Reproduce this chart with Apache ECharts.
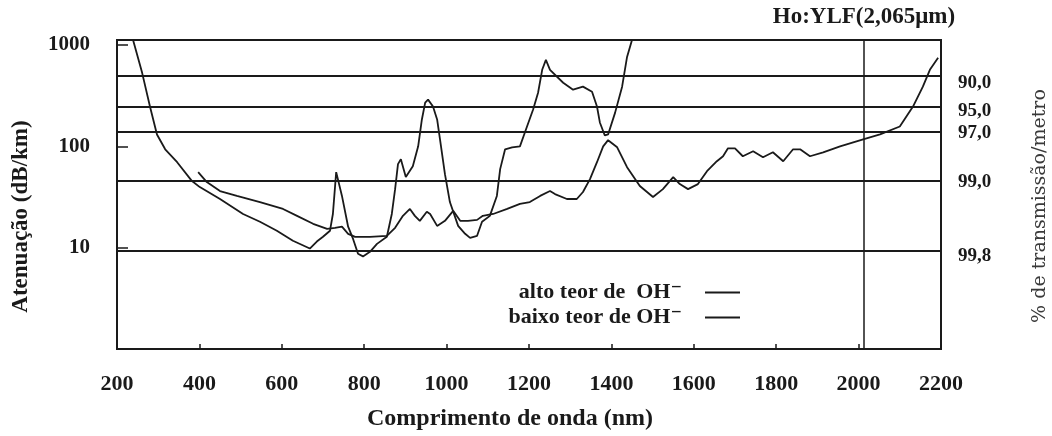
<!DOCTYPE html>
<html lang="pt">
<head>
    <meta charset="UTF-8">
    <title>Atenuação x Comprimento de onda</title>
    <script src="https://cdn.jsdelivr.net/npm/echarts@6/dist/echarts.min.js"></script>
    <style>
        html, body { margin: 0; padding: 0; background: #fff; }
    </style>
</head>
<body>
<div id="main" style="width: 1052px;height:436px;"></div>
<script type="text/javascript">
    // alto teor de OH-
    var altoNm = [239, 261, 280, 297, 317, 346, 382, 401, 450, 506, 547, 588, 627, 668, 685, 700, 717, 724, 732, 746,
        761, 773, 785, 797, 814, 831, 855, 867, 875, 882, 889, 901, 918, 931, 940, 948, 955, 967, 977, 984,
        996, 1008, 1028, 1045, 1057, 1074, 1086, 1105, 1122, 1130, 1142, 1159, 1178, 1190, 1210, 1222, 1232, 1241, 1251, 1283,
        1307, 1331, 1353, 1365, 1372, 1384, 1392, 1409, 1426, 1438, 1450];
    var altoDb = [1120, 531, 247, 131, 93.5, 69.7, 45.4, 39.6, 30.2, 21.5, 18.0, 14.7, 11.7, 9.8, 11.5, 12.8, 14.7, 21.5, 55.6, 32.4,
        16.1, 12.2, 8.7, 8.2, 9.1, 10.9, 12.8, 21.5, 37.8, 66.7, 74.7, 49.7, 63.7, 100, 184, 270, 289, 247, 184, 117,
        53.1, 28.2, 16.4, 13.7, 12.5, 13.1, 18.0, 20.6, 32.4, 59.6, 93.5, 97.8, 100, 137, 231, 338, 569, 713, 569, 424,
        362, 388, 346, 247, 172, 128, 131, 215, 388, 763, 1120];

    // baixo teor de OH-
    var baixoNm = [397, 418, 450, 491, 547, 603, 637, 676, 710, 729, 746, 761, 778, 814, 855, 875, 894, 911, 923, 935,
        952, 960, 977, 996, 1016, 1033, 1052, 1074, 1088, 1113, 1147, 1178, 1202, 1227, 1251, 1263, 1292, 1316, 1331, 1348,
        1365, 1380, 1392, 1414, 1438, 1469, 1501, 1525, 1550, 1566, 1586, 1610, 1632, 1656, 1671, 1683, 1700, 1719, 1744, 1768,
        1792, 1817, 1841, 1858, 1882, 1914, 1955, 2011, 2052, 2100, 2132, 2156, 2173, 2193];
    var baixoDb = [55.6, 44.4, 36.2, 32.4, 28.2, 24.1, 20.6, 17.2, 15.3, 15.7, 16.1, 13.7, 12.8, 12.8, 13.1, 15.7, 20.6, 24.1, 20.6, 18.4,
        22.6, 21.5, 16.4, 18.4, 23.1, 18.4, 18.4, 18.8, 20.6, 21.5, 24.1, 27.0, 28.2, 32.4, 36.2, 33.8, 30.2, 30.2, 35.4, 47.5,
        69.7, 100, 115, 97.8, 62.3, 40.6, 31.6, 37.8, 49.7, 42.4, 37.8, 42.4, 56.9, 71.3, 79.8, 95.6, 95.6, 79.8, 89.4, 78.0,
        87.3, 71.3, 93.5, 93.5, 79.8, 87.3, 100, 117, 131, 157, 247, 388, 569, 747];

    // linhas de transmissão (% por metro)
    var transDb = [497, 247, 140, 45.4, 9.35];
    var transLabels = ['90,0', '95,0', '97,0', '99,0', '99,8'];
    var transLabelDrop = [14, 10, 4, 2, 10];  // deslocamento do rótulo abaixo da linha

    var laserNm = 2013;
    var laserLabel = 'Ho:YLF(2,065\u03bcm)';

    var serif = '"Liberation Serif", "DejaVu Serif", serif';
    var ink = '#1a1a1a';

    function pares(xs, ys) {
        return xs.map(function (x, i) { return [x, ys[i]]; });
    }

    var option = {
        animation: false,
        backgroundColor: '#fff',
        grid: {
            left: 117, right: 111, top: 40, bottom: 85,
            show: true, borderColor: ink, borderWidth: 2, backgroundColor: 'transparent'
        },
        legend: {
            orient: 'vertical',
            align: 'right',
            right: 312,
            top: 281,
            padding: 0,
            itemGap: 2,
            itemWidth: 35,
            itemHeight: 2,
            icon: 'rect',
            selectedMode: false,
            textStyle: {
                fontFamily: serif, fontWeight: 'bold', fontSize: 22, color: ink,
                lineHeight: 23, padding: [0, 18, 0, 0]
            },
            data: ['alto teor de  OH\u207b', 'baixo teor de OH\u207b']
        },
        xAxis: {
            type: 'value',
            min: 200, max: 2200, interval: 200,
            name: 'Comprimento de onda (nm)',
            nameLocation: 'middle',
            nameGap: 58,
            nameTextStyle: {
                fontFamily: serif, fontWeight: 'bold', fontSize: 24, color: ink,
                padding: [0, 38, 0, 0]
            },
            axisLine: { lineStyle: { color: ink, width: 2 } },
            axisTick: { inside: true, length: 5, lineStyle: { color: ink, width: 1.5 } },
            axisLabel: {
                margin: 24,
                fontFamily: serif, fontWeight: 'bold', fontSize: 22, color: ink,
                formatter: function (v) { return String(v); }
            },
            splitLine: { show: false }
        },
        yAxis: {
            type: 'log',
            logBase: 10,
            min: 1, max: 1120,
            name: 'Atenuação (dB/km)',
            nameLocation: 'middle',
            nameGap: 84,
            nameRotate: 90,
            nameTextStyle: {
                fontFamily: serif, fontWeight: 'bold', fontSize: 23, color: ink,
                padding: [0, 44, 0, 0]
            },
            axisLine: { lineStyle: { color: ink, width: 2 } },
            axisTick: { inside: true, length: 11, lineStyle: { color: ink, width: 1.5 } },
            axisLabel: {
                margin: 27,
                fontFamily: serif, fontWeight: 'bold', fontSize: 21, color: ink,
                formatter: function (v) {
                    var r = Math.round(v);
                    return (r === 10 || r === 100 || r === 1000) ? String(r) : '';
                }
            },
            splitLine: { show: false }
        },
        series: [
            {
                name: 'alto teor de  OH\u207b',
                type: 'line',
                showSymbol: false,
                symbol: 'none',
                data: pares(altoNm, altoDb),
                lineStyle: { color: ink, width: 1.8 },
                itemStyle: { color: ink }
            },
            {
                name: 'baixo teor de OH\u207b',
                type: 'line',
                showSymbol: false,
                symbol: 'none',
                data: pares(baixoNm, baixoDb),
                lineStyle: { color: ink, width: 1.8 },
                itemStyle: { color: ink },
                markLine: {
                    silent: true,
                    symbol: 'none',
                    animation: false,
                    lineStyle: { color: ink, width: 1.8, type: 'solid' },
                    label: {
                        position: 'end',
                        distance: 17,
                        fontFamily: serif, fontWeight: 'bold', fontSize: 19, color: ink
                    },
                    data: transDb.map(function (v, i) {
                        return {
                            yAxis: v,
                            label: {
                                formatter: '{t|' + transLabels[i] + '}',
                                rich: {
                                    t: {
                                        fontFamily: serif, fontWeight: 'bold', fontSize: 19, color: ink,
                                        padding: [transLabelDrop[i], 0, 0, 0]
                                    }
                                }
                            }
                        };
                    }).concat([{
                        xAxis: laserNm,
                        lineStyle: { width: 1.5 },
                        label: {
                            formatter: laserLabel, position: 'end', distance: 11,
                            fontSize: 23
                        }
                    }])
                }
            }
        ],
        graphic: [
            {
                type: 'text',
                x: 1040, y: 206,
                rotation: Math.PI / 2,
                style: {
                    text: '% de transmissão/metro',
                    fontFamily: '"DejaVu Serif", serif', fontSize: 19, fill: '#3a3a3a',
                    align: 'center', verticalAlign: 'middle'
                }
            }
        ]
    };

    var myChart = echarts.init(document.getElementById('main'));
    myChart.setOption(option);
</script>
</body>
</html>
